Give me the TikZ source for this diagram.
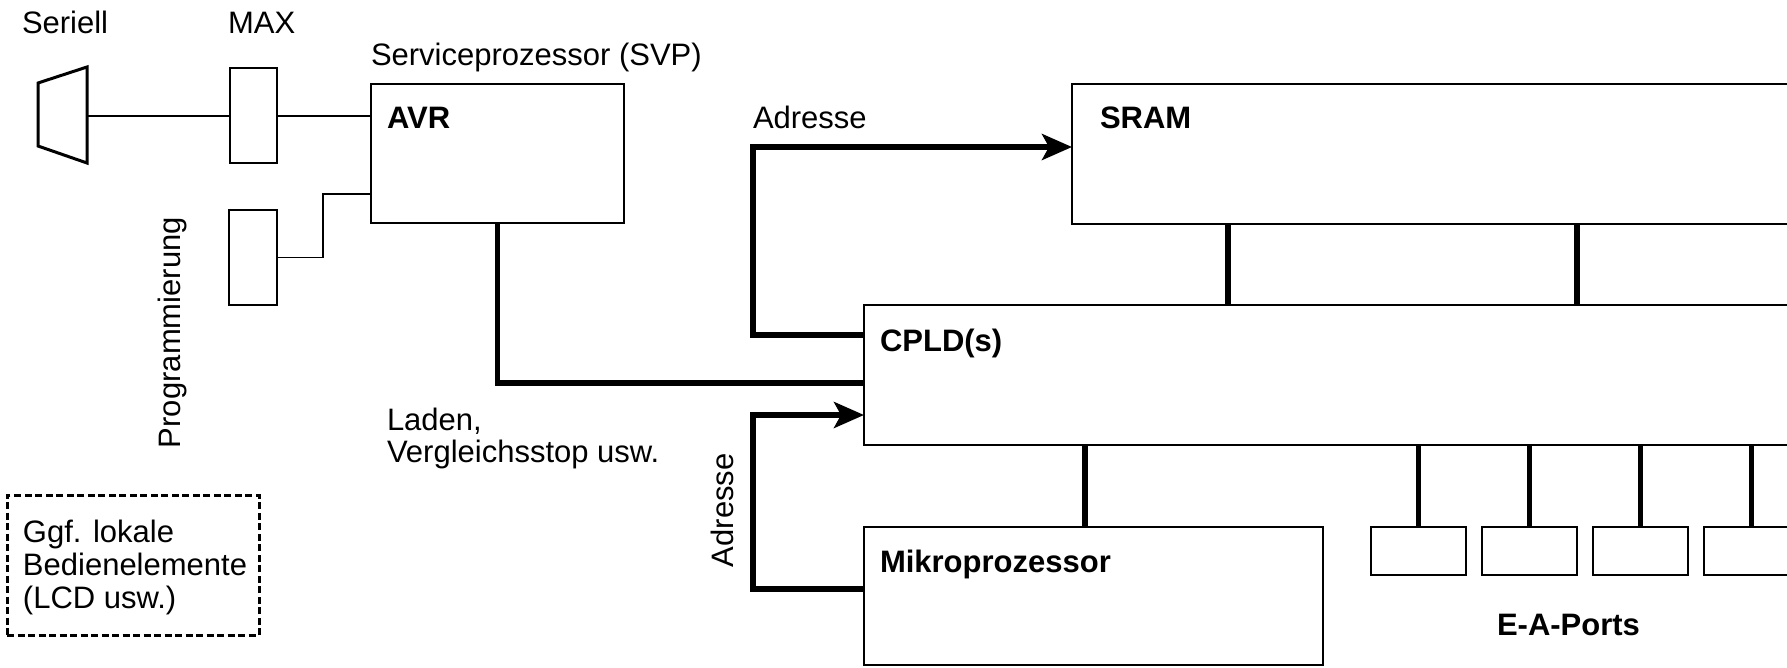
\documentclass[tikz,border=0pt]{standalone}
\usepackage{fontspec}
\setmainfont{Liberation Sans}
\usetikzlibrary{arrows.meta,calc}
\begin{document}
\begin{tikzpicture}[x=1pt,y=-1pt,
  box/.style={draw, line width=2.7pt, inner sep=0pt, outer sep=0pt, anchor=north west},
  bus/.style={line width=5.3pt},
  wire/.style={line width=2pt},
  thinwire/.style={line width=1.4pt},
  lbl/.style={anchor=base west, inner sep=0pt, outer sep=0pt, font=\fontsize{31}{34}\selectfont},
  blbl/.style={lbl, font=\fontsize{31}{34}\selectfont\bfseries},
  addrarrow/.style={bus, -{Stealth[length=30pt,width=26pt,inset=7pt]}}
]
\useasboundingbox (0,0) rectangle (1787,667);
\clip (0,0) rectangle (1787,667);

% serial connector
\draw[line width=3pt] (38,83) -- (87,67) -- (87,163) -- (38,146) -- cycle;
\coordinate (trap) at (87,115.5);

% blocks
\node[box, minimum width=47pt, minimum height=95pt] (maxic) at (230,68) {};
\node[box, minimum width=48pt, minimum height=95pt] (prog) at (229,210) {};
\node[box, minimum width=253pt, minimum height=139pt] (avr) at (371,84) {};
\node[box, minimum width=800pt, minimum height=140pt] (sram) at (1072,84) {};
\node[box, minimum width=1000pt, minimum height=140pt] (cpld) at (864,305) {};
\node[box, minimum width=459pt, minimum height=138pt] (mikro) at (864,527) {};
\foreach \i in {0,...,3}
  \node[box, minimum width=95pt, minimum height=48pt] (port\i) at (1371+111*\i,527) {};
\node[box, line width=3pt, dash pattern=on 7pt off 3.5pt, minimum width=252pt, minimum height=140pt] (panel) at (7,495) {};

% labels
\node[lbl] (seriell) at (22,33) {Seriell};
\node[lbl] (maxlbl) at (228,33) {MAX};
\node[lbl] (svp) at (371,65) {Serviceprozessor (SVP)};
\node[blbl] (avrlbl) at (387,128) {AVR};
\node[blbl] (sramlbl) at (1100,128) {SRAM};
\node[blbl] (cpldlbl) at (880,351) {CPLD(s)};
\node[blbl] (mikrolbl) at (880,572) {Mikroprozessor};
\node[blbl] (portslbl) at (1497,635) {E-A-Ports};
\node[lbl] (adrup) at (753,128) {Adresse};
\node[lbl, rotate=90] (adrlow) at (733,567) {Adresse};
\node[lbl, rotate=90] (proglbl) at (180,448) {Programmierung};
\node[lbl, font=\fontsize{31}{32}\selectfont] (laden) at (387,430)
  {\begin{tabular}[t]{@{}l@{}}Laden,\\Vergleichsstop usw.\end{tabular}};
\node[lbl, font=\fontsize{31}{33}\selectfont] (paneltext) at (23,542)
  {\begin{tabular}[t]{@{}l@{}}Ggf. lokale\\Bedienelemente\\(LCD usw.)\end{tabular}};

% connections
\draw[wire] (trap) -- (maxic.west);
\draw[wire] (maxic.east) -- (maxic.east -| avr.west);
\coordinate (pk) at (323,194);
\draw[thinwire] (prog.east) -| (pk) -- (pk -| avr.west);
\draw[bus] (avr.south) |- ($(cpld.north west)+(0,78)$);
\coordinate (ua) at (753,147);
\draw[addrarrow] ($(cpld.north west)+(0,30)$) -| (ua) -- (ua -| sram.west);
\coordinate (la) at (753,415);
\draw[addrarrow] ($(mikro.north west)+(0,62)$) -| (la) -- (la -| cpld.west);
\draw[bus] ($(sram.south west)+(156,0)$) -- ($(cpld.north west)+(364,0)$);
\draw[bus] ($(sram.south west)+(505,0)$) -- ($(cpld.north west)+(713,0)$);
\draw[bus] ($(mikro.north west)+(221,0)$) coordinate (mp) -- (mp |- cpld.south);
\foreach \i in {0,...,3}
  \draw[bus] (port\i.north) -- (port\i.north |- cpld.south);
\end{tikzpicture}
\end{document}
